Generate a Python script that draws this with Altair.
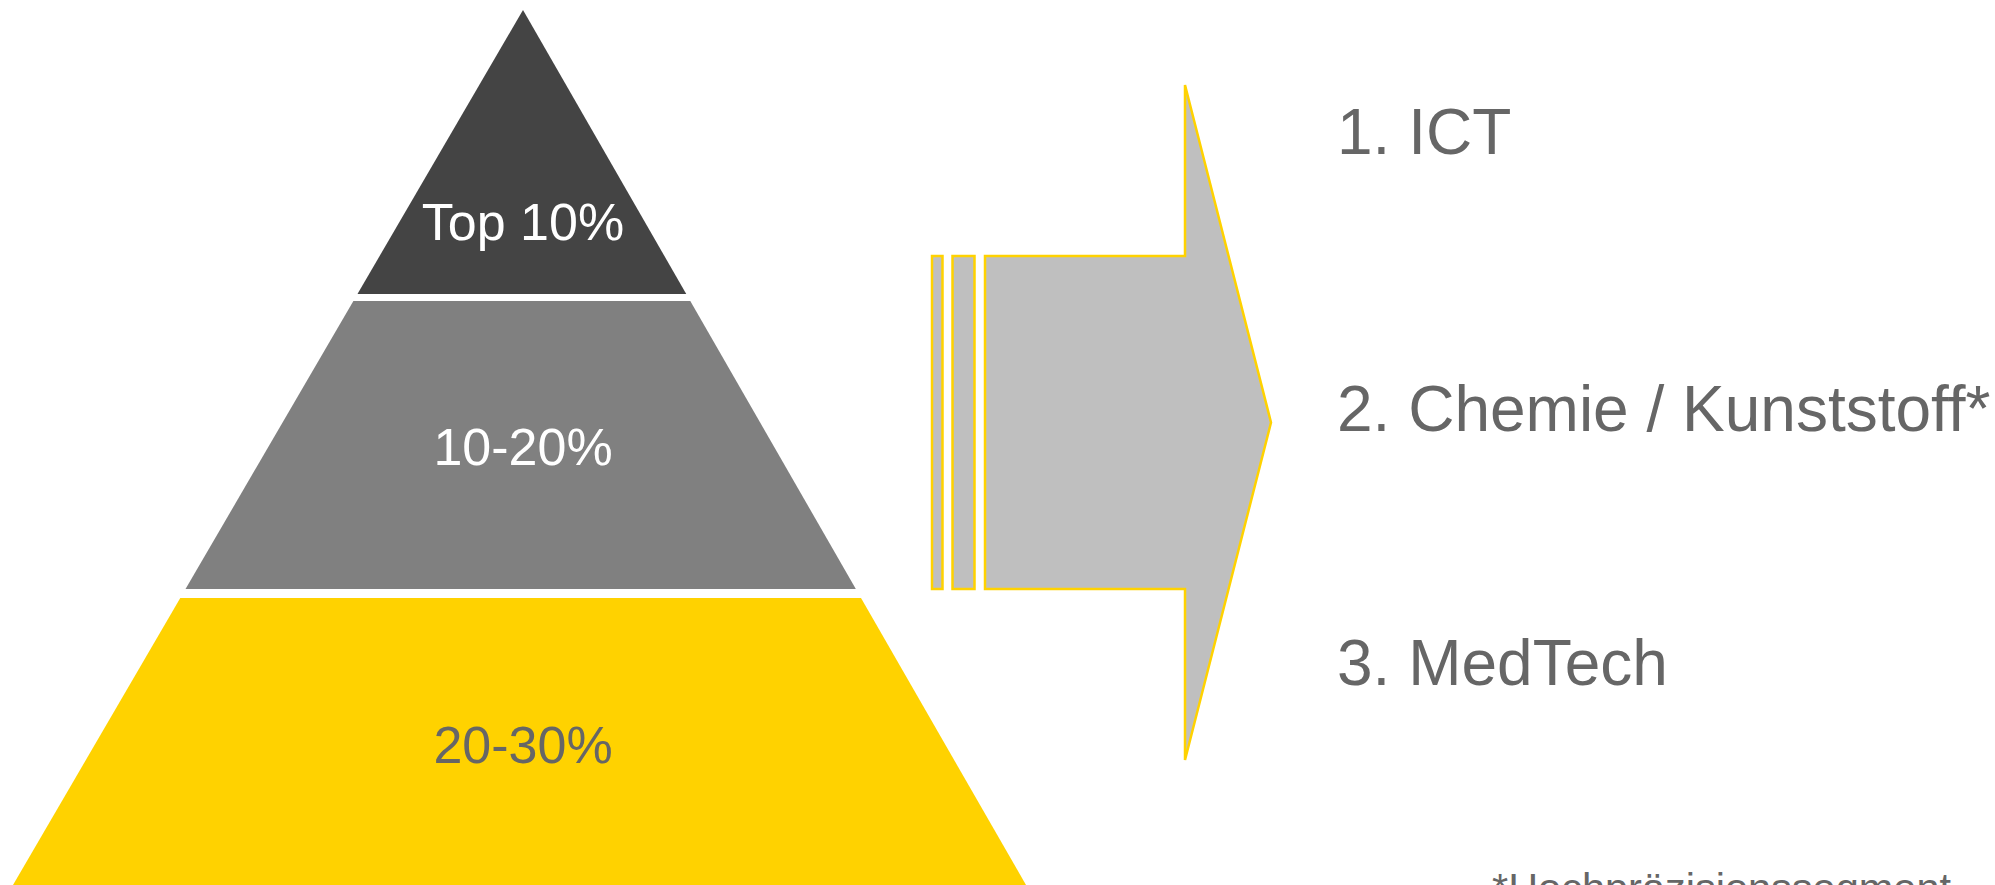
import altair as alt
import pandas as pd

W, H = 1995, 885
FONT = "Liberation Sans"

# ---- Pyramid geometry / data ----
band_labels = ["Top 10%", "10-20%", "20-30%"]
band_colors = ["#444444", "#808080", "#FFD200"]
band_label_colors = ["#FFFFFF", "#FFFFFF", "#666666"]
band_top = [10, 301, 598]
band_bottom = [294, 589, 885]
band_label_y = [240, 465, 763]
apex_x, apex_y = 523, 10
base_y = 885
base_left, base_right = 13, 1026

# ---- Arrow geometry ----
bar_x = [932, 952.5]
bar_x2 = [942.5, 974.5]
bar_y, bar_y2 = 256, 589
arrow_x = [985, 1185, 1185, 1271]
arrow_top = [256, 256, 85, 422.5]
arrow_bottom = [589, 589, 760, 422.5]

# ---- Right-hand texts ----
industry_labels = ["1. ICT", "2. Chemie / Kunststoff*", "3. MedTech"]
industry_y = [154, 431, 685]
industry_x = 1337
footnote = "*Hochpräzisionssegment"
footnote_x, footnote_y = 1492, 902


def left_edge(y):
    return apex_x - (apex_x - base_left) * (y - apex_y) / (base_y - apex_y)


def right_edge(y):
    return apex_x + (base_right - apex_x) * (y - apex_y) / (base_y - apex_y)


rows = []
for lab, t, b in zip(band_labels, band_top, band_bottom):
    xs_ = [left_edge(b), left_edge(t), right_edge(t), right_edge(b)]
    tops = [b, t, t, b]
    for x, yt in zip(xs_, tops):
        rows.append({"band": lab, "x": x, "y": yt, "y2": b})
bands_df = pd.DataFrame(rows)

band_text_df = pd.DataFrame({
    "label": band_labels,
    "x": [apex_x] * 3,
    "y": band_label_y,
    "c": band_label_colors,
})

bars_df = pd.DataFrame({"x": bar_x, "x2": bar_x2, "y": [bar_y] * 2, "y2": [bar_y2] * 2})
arrow_df = pd.DataFrame({"x": arrow_x, "y": arrow_top, "y2": arrow_bottom})

ind_df = pd.DataFrame({"label": industry_labels, "x": [industry_x] * 3, "y": industry_y})
foot_df = pd.DataFrame({"label": [footnote], "x": [footnote_x], "y": [footnote_y]})

xs = alt.Scale(domain=[0, W], nice=False, zero=False)
ys = alt.Scale(domain=[0, H], reverse=True, nice=False, zero=False)

pyramid = alt.Chart(bands_df).mark_area(orient="vertical").encode(
    x=alt.X("x:Q", scale=xs, axis=None),
    y=alt.Y("y:Q", scale=ys, axis=None),
    y2="y2:Q",
    color=alt.Color("band:N", scale=alt.Scale(domain=band_labels, range=band_colors), legend=None),
)

band_text = alt.Chart(band_text_df).mark_text(
    font=FONT, fontSize=52, align="center", baseline="alphabetic"
).encode(
    x=alt.X("x:Q", scale=xs, axis=None),
    y=alt.Y("y:Q", scale=ys, axis=None),
    text="label:N",
    color=alt.Color("c:N", scale=None),
)

bars = alt.Chart(bars_df).mark_rect(fill="#BFBFBF", stroke="#FFD200", strokeWidth=2.5).encode(
    x=alt.X("x:Q", scale=xs, axis=None),
    x2="x2:Q",
    y=alt.Y("y:Q", scale=ys, axis=None),
    y2="y2:Q",
)

arrow = alt.Chart(arrow_df).mark_area(
    orient="vertical", fill="#BFBFBF", stroke="#FFD200", strokeWidth=2.5
).encode(
    x=alt.X("x:Q", scale=xs, axis=None),
    y=alt.Y("y:Q", scale=ys, axis=None),
    y2="y2:Q",
)

ind_text = alt.Chart(ind_df).mark_text(
    font=FONT, fontSize=64, align="left", baseline="alphabetic", color="#666666"
).encode(
    x=alt.X("x:Q", scale=xs, axis=None),
    y=alt.Y("y:Q", scale=ys, axis=None),
    text="label:N",
)

foot_text = alt.Chart(foot_df).mark_text(
    font=FONT, fontSize=41.5, align="left", baseline="alphabetic", color="#666666"
).encode(
    x=alt.X("x:Q", scale=xs, axis=None),
    y=alt.Y("y:Q", scale=ys, axis=None),
    text="label:N",
)

chart = alt.layer(pyramid, band_text, bars, arrow, ind_text, foot_text).properties(
    width=W, height=H, autosize=alt.AutoSizeParams(type="none"), padding=0, background="white"
).configure_view(stroke=None)

chart.save("out.html", embed_options={"renderer": "svg", "actions": False})
